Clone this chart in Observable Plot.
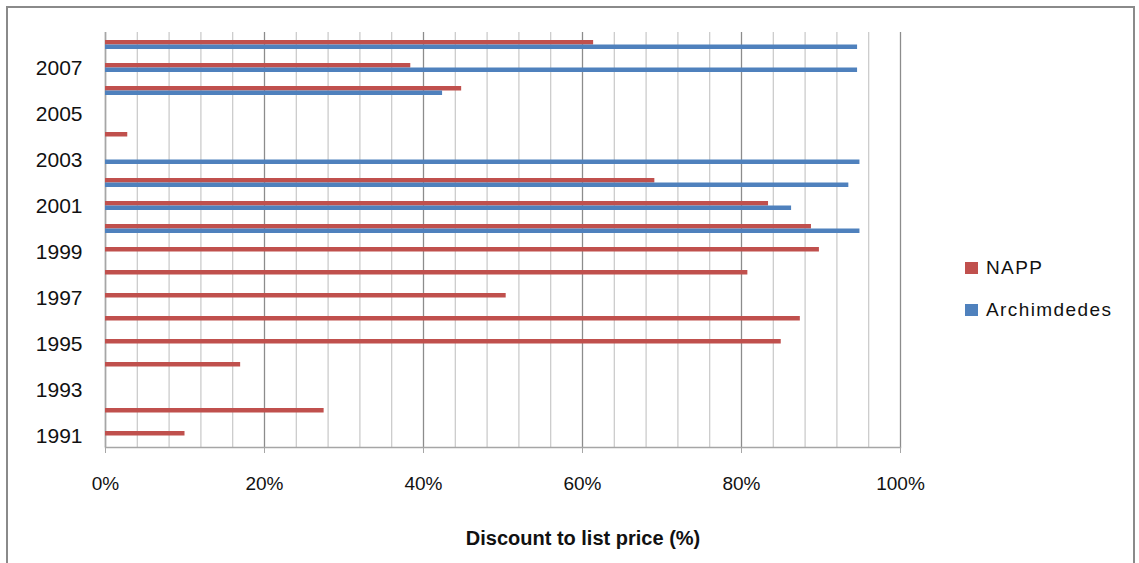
<!DOCTYPE html>
<html>
<head>
<meta charset="utf-8">
<script src="https://cdn.jsdelivr.net/npm/d3@7"></script>
<script src="https://cdn.jsdelivr.net/npm/@observablehq/plot@0.6"></script>
<style>
  html, body { margin: 0; padding: 0; background: #fff; }
  #wrap { position: relative; width: 1139px; height: 563px; overflow: hidden; font-family: "Liberation Sans", Arial, sans-serif; }
  #border { position: absolute; left: 6px; top: 6px; width: 1129px; height: 600px; border: 2px solid #8a8a8a; box-sizing: border-box; pointer-events: none; }
  .leg { position: absolute; left: 965px; display: flex; align-items: center; font-size: 19px; letter-spacing: 1.4px; color: #111; }
  .leg span.sw { display: inline-block; width: 13px; height: 12px; margin-right: 8px; }
</style>
</head>
<body>
<div id="wrap">
  <div id="chart"></div>
  <div id="legend"></div>
  <div id="border"></div>
</div>
<script>
// Data
const years = [1991, 1992, 1993, 1994, 1995, 1996, 1997, 1998, 1999, 2000, 2001, 2002, 2003, 2004, 2005, 2006, 2007, 2008];
const napp = [0.100, 0.275, null, 0.170, 0.850, 0.874, 0.504, 0.808, 0.898, 0.888, 0.834, 0.691, null, 0.028, null, 0.448, 0.384, 0.614];
const archimedes = [null, null, null, null, null, null, null, null, null, 0.949, 0.863, 0.935, 0.949, null, null, 0.424, 0.946, 0.946];
const seriesNames = ["NAPP", "Archimdedes"];
const seriesColors = ["#C0504D", "#4F81BD"];
const xTicks = [0, 0.2, 0.4, 0.6, 0.8, 1.0];
const minorGrid = d3.range(0, 26).map(i => i * 0.04);
const yTickYears = [1991, 1993, 1995, 1997, 1999, 2001, 2003, 2005, 2007];
const xLabel = "Discount to list price (%)";

const nappData = years.map((y, i) => ({year: y, value: napp[i]})).filter(d => d.value != null);
const archData = years.map((y, i) => ({year: y, value: archimedes[i]})).filter(d => d.value != null);

const chart = Plot.plot({
  width: 1139,
  height: 563,
  marginLeft: 105,
  marginRight: 239,
  marginTop: 32,
  marginBottom: 116,
  style: {fontFamily: "'Liberation Sans', Arial, sans-serif", background: "transparent", color: "#111"},
  x: {domain: [0, 1], axis: null},
  y: {type: "band", domain: years.slice().reverse(), padding: 0, axis: null},
  marks: [
    Plot.gridX(minorGrid, {stroke: "#c8c8c8", strokeOpacity: 1, strokeWidth: 1.2}),
    Plot.gridX(xTicks, {stroke: "#8c8c8c", strokeOpacity: 1, strokeWidth: 1.2}),
    Plot.ruleX([0], {stroke: "#a6a6a6", strokeWidth: 1.5}),
    Plot.frame({anchor: "bottom", stroke: "#a6a6a6", strokeWidth: 1.5}),
    Plot.barX(nappData, {x: "value", y: "year", fill: seriesColors[0], insetTop: 7, insetBottom: 11.5}),
    Plot.barX(archData, {x: "value", y: "year", fill: seriesColors[1], insetTop: 11.5, insetBottom: 7}),
    Plot.axisX({ticks: xTicks, tickFormat: d3.format(".0%"), tickSize: 6, tickPadding: 23, stroke: "#a6a6a6", fontSize: 19, fill: "#111", label: null}),
    Plot.axisY({ticks: yTickYears, tickFormat: d => String(d), tickSize: 0, tickPadding: 23, fontSize: 21, fill: "#111", label: null}),
    Plot.text([xLabel], {frameAnchor: "bottom", dx: 80, dy: 91, fontSize: 20, fontWeight: "bold", fill: "#111", lineAnchor: "middle"})
  ]
});
document.getElementById("chart").appendChild(chart);

const legend = document.getElementById("legend");
const legTops = [257, 299];
seriesNames.forEach((name, i) => {
  const div = document.createElement("div");
  div.className = "leg";
  div.style.top = legTops[i] + "px";
  div.innerHTML = `<span class="sw" style="background:${seriesColors[i]}"></span><span>${name}</span>`;
  legend.appendChild(div);
});
</script>
</body>
</html>
